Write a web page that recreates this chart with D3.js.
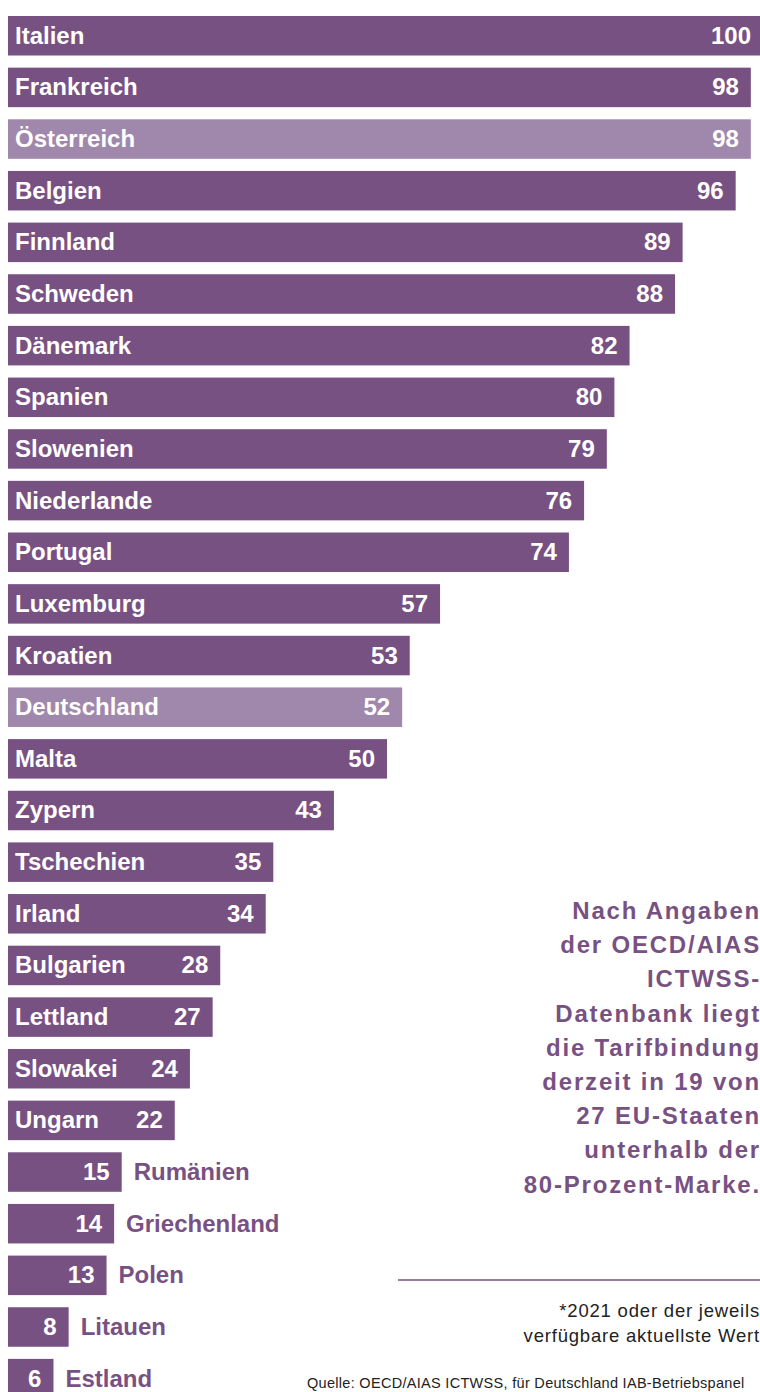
<!DOCTYPE html>
<html>
<head>
<meta charset="utf-8">
<script src="https://cdn.jsdelivr.net/npm/d3@7"></script>
<style>
  body { margin: 0; background: #fff; overflow: hidden; }
  svg { display: block; }
</style>
</head>
<body>
<svg id="chart"></svg>
<script>
// Tarifbindung in den EU-Staaten (in Prozent)*
const countries = ["Italien", "Frankreich", "Österreich", "Belgien", "Finnland", "Schweden",
  "Dänemark", "Spanien", "Slowenien", "Niederlande", "Portugal", "Luxemburg", "Kroatien",
  "Deutschland", "Malta", "Zypern", "Tschechien", "Irland", "Bulgarien", "Lettland",
  "Slowakei", "Ungarn", "Rumänien", "Griechenland", "Polen", "Litauen", "Estland"];
const values = [100, 98, 98, 96, 89, 88, 82, 80, 79, 76, 74, 57, 53, 52, 50, 43, 35, 34,
  28, 27, 24, 22, 15, 14, 13, 8, 6];
const highlighted = ["Österreich", "Deutschland"];

const noteLines = ["Nach Angaben", "der OECD/AIAS", "ICTWSS-", "Datenbank liegt",
  "die Tarifbindung", "derzeit in 19 von", "27 EU-Staaten", "unterhalb der",
  "80-Prozent-Marke."];
const footLines = ["*2021 oder der jeweils", "verfügbare aktuellste Wert"];
const sourceText = "Quelle: OECD/AIAS ICTWSS, für Deutschland IAB-Betriebspanel";

const width = 760, height = 1392;
const dark = "#785183", light = "#a088ac";
const font = "'Liberation Sans', Arial, Helvetica, sans-serif";

const data = countries.map((c, i) => ({ name: c, value: values[i] }));

const svg = d3.select("#chart").attr("width", width).attr("height", height);

const x = d3.scaleLinear().domain([0, 100]).range([8, 766]);
const y = d3.scaleBand().domain(countries).range([16, 1398.4]).paddingInner(0.235).paddingOuter(0);

const rows = svg.selectAll("g.row").data(data).enter().append("g").attr("class", "row");

rows.append("rect")
  .attr("x", x(0))
  .attr("y", d => y(d.name))
  .attr("width", d => x(d.value) - x(0))
  .attr("height", y.bandwidth())
  .attr("fill", d => highlighted.includes(d.name) ? light : dark);

// value labels, inside the bar at its end
rows.append("text")
  .attr("x", d => Math.min(x(d.value), 763) - 12)
  .attr("y", d => y(d.name) + y.bandwidth() / 2 + 8)
  .attr("text-anchor", "end")
  .attr("font-family", font)
  .attr("font-weight", "bold")
  .attr("font-size", 24)
  .attr("fill", "#fff")
  .text(d => d.value);

// country labels: inside for long bars, outside for short ones
rows.append("text")
  .attr("x", d => d.value > 20 ? 15 : x(d.value) + 12)
  .attr("y", d => y(d.name) + y.bandwidth() / 2 + 8)
  .attr("font-family", font)
  .attr("font-weight", "bold")
  .attr("font-size", 24)
  .attr("fill", d => d.value > 20 ? "#fff" : dark)
  .text(d => d.name);

// annotation
svg.append("g").selectAll("text").data(noteLines).enter().append("text")
  .attr("x", 761)
  .attr("y", (d, i) => 919 + i * 34.2)
  .attr("text-anchor", "end")
  .attr("font-family", font)
  .attr("font-weight", "bold")
  .attr("font-size", 24)
  .attr("letter-spacing", 1.8)
  .attr("fill", dark)
  .text(d => d);

svg.append("line")
  .attr("x1", 398).attr("x2", 760)
  .attr("y1", 1280).attr("y2", 1280)
  .attr("stroke", dark).attr("stroke-width", 1.4);

svg.append("g").selectAll("text").data(footLines).enter().append("text")
  .attr("x", 760)
  .attr("y", (d, i) => 1317 + i * 25)
  .attr("text-anchor", "end")
  .attr("font-family", font)
  .attr("font-size", 18.5)
  .attr("letter-spacing", 0.8)
  .attr("fill", "#222")
  .text(d => d);

svg.append("text")
  .attr("x", 307)
  .attr("y", 1388)
  .attr("font-family", font)
  .attr("font-size", 14.5)
  .attr("letter-spacing", 0.3)
  .attr("fill", "#222")
  .text(sourceText);
</script>
</body>
</html>
